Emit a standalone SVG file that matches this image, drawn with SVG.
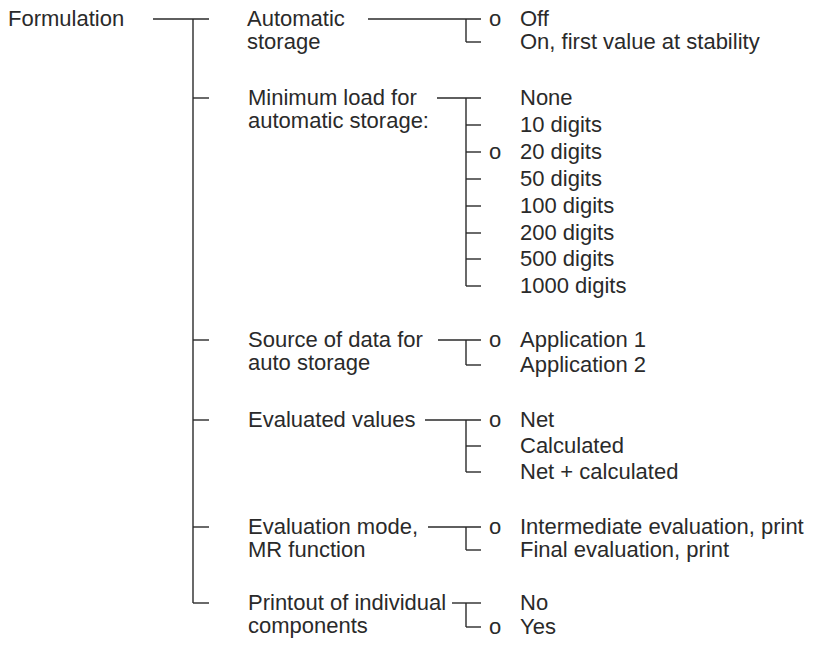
<svg xmlns="http://www.w3.org/2000/svg" width="814" height="645" viewBox="0 0 814 645">
<style>
text{font-family:"Liberation Sans",Arial,sans-serif;font-size:22px;fill:#2a2a2a}
.c line{stroke:#2a2a2a;stroke-width:1.4;fill:none}
</style>
<rect width="814" height="645" fill="#fff"/>
<g id="connectors" class="c">
<line x1="153" y1="19" x2="209" y2="19"/>
<line x1="193" y1="19" x2="193" y2="603"/>
<line x1="193" y1="98" x2="209" y2="98"/>
<line x1="193" y1="340" x2="209" y2="340"/>
<line x1="193" y1="420" x2="209" y2="420"/>
<line x1="193" y1="527" x2="209" y2="527"/>
<line x1="193" y1="603" x2="209" y2="603"/>
<line x1="368" y1="19" x2="481" y2="19"/>
<line x1="466" y1="19" x2="466" y2="42"/>
<line x1="466" y1="42" x2="481" y2="42"/>
<line x1="437" y1="98" x2="481" y2="98"/>
<line x1="466" y1="98" x2="466" y2="286"/>
<line x1="466" y1="125" x2="481" y2="125"/>
<line x1="466" y1="152" x2="481" y2="152"/>
<line x1="466" y1="179" x2="481" y2="179"/>
<line x1="466" y1="206" x2="481" y2="206"/>
<line x1="466" y1="233" x2="481" y2="233"/>
<line x1="466" y1="259" x2="481" y2="259"/>
<line x1="466" y1="286" x2="481" y2="286"/>
<line x1="438" y1="340" x2="481" y2="340"/>
<line x1="466" y1="340" x2="466" y2="365"/>
<line x1="466" y1="365" x2="481" y2="365"/>
<line x1="425" y1="420" x2="481" y2="420"/>
<line x1="466" y1="420" x2="466" y2="472"/>
<line x1="466" y1="446" x2="481" y2="446"/>
<line x1="466" y1="472" x2="481" y2="472"/>
<line x1="428" y1="527" x2="481" y2="527"/>
<line x1="466" y1="527" x2="466" y2="550"/>
<line x1="466" y1="550" x2="481" y2="550"/>
<line x1="452" y1="603" x2="481" y2="603"/>
<line x1="466" y1="603" x2="466" y2="627"/>
<line x1="466" y1="627" x2="481" y2="627"/>
</g>
<g id="root"><text x="8" y="26">Formulation</text></g>
<g id="auto-storage">
<text x="247" y="26">Automatic</text><text x="247" y="49">storage</text>
<text x="489" y="26">o</text><text x="520" y="26">Off</text>
<text x="520" y="49">On, first value at stability</text>
</g>
<g id="min-load">
<text x="248" y="105">Minimum load for</text><text x="248" y="128">automatic storage:</text>
<text x="520" y="105">None</text>
<text x="520" y="132">10 digits</text>
<text x="489" y="159">o</text><text x="520" y="159">20 digits</text>
<text x="520" y="186">50 digits</text>
<text x="520" y="213">100 digits</text>
<text x="520" y="240">200 digits</text>
<text x="520" y="266">500 digits</text>
<text x="520" y="293">1000 digits</text>
</g>
<g id="source">
<text x="248" y="347">Source of data for</text><text x="248" y="370">auto storage</text>
<text x="489" y="347">o</text><text x="520" y="347">Application 1</text>
<text x="520" y="372">Application 2</text>
</g>
<g id="evaluated">
<text x="248" y="427">Evaluated values</text>
<text x="489" y="427">o</text><text x="520" y="427">Net</text>
<text x="520" y="453">Calculated</text>
<text x="520" y="479">Net + calculated</text>
</g>
<g id="eval-mode">
<text x="248" y="534">Evaluation mode,</text><text x="248" y="557">MR function</text>
<text x="489" y="534">o</text><text x="520" y="534">Intermediate evaluation, print</text>
<text x="520" y="557">Final evaluation, print</text>
</g>
<g id="printout">
<text x="248" y="610">Printout of individual</text><text x="248" y="633">components</text>
<text x="520" y="610">No</text>
<text x="489" y="634">o</text><text x="520" y="634">Yes</text>
</g>
</svg>
